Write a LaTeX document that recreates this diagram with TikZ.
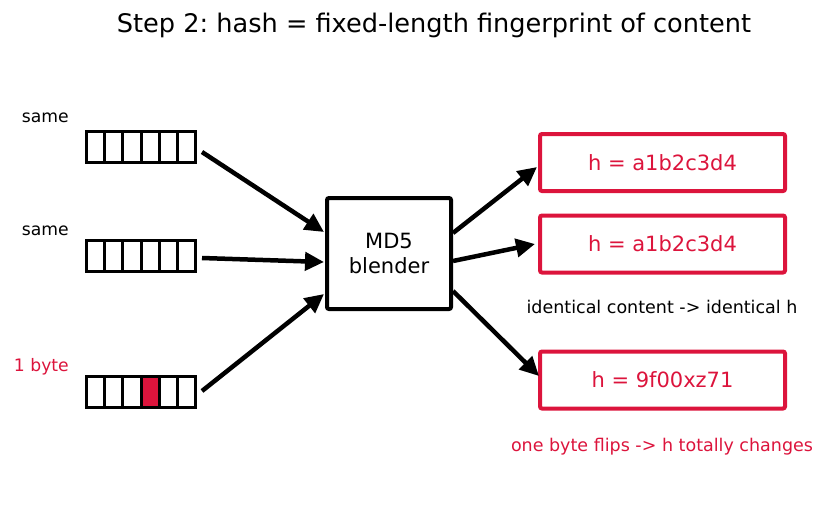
\documentclass[tikz,border=0pt]{standalone}
\usepackage{fontspec}
\setmainfont{DejaVu Sans}
\usetikzlibrary{arrows.meta}
\definecolor{crim}{RGB}{220,20,60}
\frenchspacing
\begin{document}
\begin{tikzpicture}[x=1pt,y=-1pt,
  cellbox/.style={draw=black,line width=3pt,minimum width=18.2pt,minimum height=31pt,inner sep=0pt,anchor=west},
  hashbox/.style={draw=crim,line width=4pt,rounded corners=2pt,minimum width=245pt,minimum height=57pt,inner sep=0pt,text=crim,font=\fontsize{21}{25}\selectfont},
  lbl/.style={font=\fontsize{17.2}{20}\selectfont,anchor=east,inner sep=0pt},
  note/.style={font=\fontsize{17.5}{20}\selectfont,inner sep=0pt},
  arr/.style={line width=4.5pt,-{Triangle[length=19pt,width=18pt]}}]
\useasboundingbox (0,0) rectangle (828,512);
\node[font=\fontsize{25.6}{30}\selectfont] (title) at (434,25) {Step 2: hash = fixed-length fingerprint of content};
% byte arrays
\foreach \r/\y in {a/146.5,b/255.5,c/391.5}{
  \foreach \i in {0,...,5}{
    \node[cellbox] (\r\i) at ({85+\i*18.2},\y) {};
  }
}
\node[cellbox,fill=crim] (c3r) at ({85+3*18.2},391.5) {};
\node[lbl] (la) at (69,118) {same};
\node[lbl] (lb) at (69,231) {same};
\node[lbl,text=crim] (lc) at (69,367) {1 byte};
% MD5 box
\node[draw,line width=4pt,rounded corners=2pt,minimum width=124pt,minimum height=111pt,inner sep=0pt,align=center,font=\fontsize{21}{25}\selectfont] (md5) at (389,253.5) {MD5\\blender};
% hash boxes
\node[hashbox] (h1) at (662.5,162.5) {h = a1b2c3d4};
\node[hashbox] (h2) at (662.5,244) {h = a1b2c3d4};
\node[hashbox] (h3) at (662.5,380) {h = 9f00xz71};
\node[note] (n1) at (662,307) {identical content -> identical h};
\node[note,text=crim] (n2) at (662,447) {one byte flips -> h totally changes};
% connector coordinates
\coordinate (s1) at (202,152);
\coordinate (s2) at (202,258);
\coordinate (s3) at (202,391);
\coordinate (e1) at (324,232);
\coordinate (e2) at (324,262);
\coordinate (e3) at (324,294);
\coordinate (o1) at (453,233);
\coordinate (o2) at (453,261);
\coordinate (o3) at (453,291);
\coordinate (t1) at (537,167);
\coordinate (t2) at (535,244);
\coordinate (t3) at (539,376);
\draw[arr] (s1) -- (e1);
\draw[arr] (s2) -- (e2);
\draw[arr] (s3) -- (e3);
\draw[arr] (o1) -- (t1);
\draw[arr] (o2) -- (t2);
\draw[arr] (o3) -- (t3);
\end{tikzpicture}
\end{document}
